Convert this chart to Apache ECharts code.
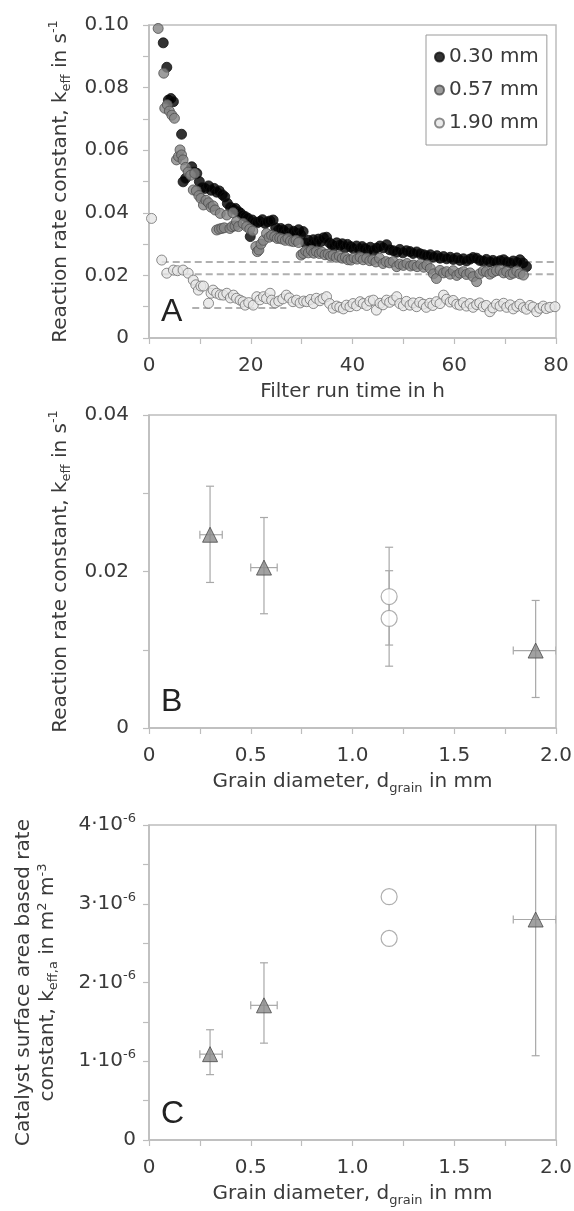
<!DOCTYPE html>
<html>
<head>
<meta charset="utf-8">
<script src="https://cdn.jsdelivr.net/npm/echarts@6.0.0/dist/echarts.min.js"></script>
<style>
  html, body { margin: 0; padding: 0; background: #fff; }
  #chart { width: 574px; height: 1211px; }
</style>
</head>
<body>
<div id="chart"></div>
<script>
// ---- panel A: k_eff vs filter run time ----
const t030 = [2.8,3.5,3.8,4.3,4.8,6.4,6.7,7.2,8.4,8.9,9.4,9.9,10.4,11.0,11.7,12.2,12.8,13.3,13.8,14.4,14.9,15.4,16.0,16.5,17.0,17.5,17.9,18.4,18.9,19.4,19.9,20.3,20.8,21.3,21.8,22.3,22.8,23.3,23.8,24.4,24.9,25.4,25.9,26.4,26.9,27.4,27.9,28.4,28.9,29.4,29.8,30.3,30.8,31.3,31.8,32.3,32.8,33.3,33.8,34.3,34.9,35.4,35.9,36.4,36.9,37.5,38.0,38.5,39.0,39.6,40.1,40.8,41.3,41.9,42.4,43.0,43.5,44.1,44.7,45.4,46.0,46.7,47.3,48.0,48.7,49.3,49.9,50.6,51.3,51.9,52.6,53.3,54.0,54.6,55.3,55.9,56.6,57.2,57.9,58.5,59.2,59.8,60.5,61.1,61.8,62.4,63.1,63.7,64.4,65.0,65.7,66.3,67.0,67.6,68.3,69.0,69.7,70.3,71.0,71.6,72.3,72.9,73.5,74.2];
const k030 = [0.0943,0.0865,0.0760,0.0765,0.0755,0.0651,0.0499,0.0510,0.0547,0.0530,0.0526,0.0500,0.0480,0.0478,0.0486,0.0472,0.0478,0.0466,0.0470,0.0458,0.0451,0.0430,0.0418,0.0412,0.0414,0.0404,0.0400,0.0392,0.0388,0.0383,0.0324,0.0377,0.0370,0.0368,0.0372,0.0378,0.0366,0.0371,0.0374,0.0377,0.0352,0.0344,0.0350,0.0345,0.0336,0.0348,0.0332,0.0341,0.0335,0.0346,0.0330,0.0340,0.0303,0.0312,0.0298,0.0314,0.0304,0.0316,0.0308,0.0320,0.0322,0.0305,0.0298,0.0293,0.0304,0.0296,0.0301,0.0288,0.0299,0.0292,0.0286,0.0294,0.0283,0.0292,0.0286,0.0280,0.0290,0.0279,0.0287,0.0294,0.0288,0.0298,0.0282,0.0279,0.0274,0.0283,0.0272,0.0279,0.0276,0.0270,0.0275,0.0269,0.0266,0.0262,0.0266,0.0258,0.0263,0.0255,0.0260,0.0253,0.0258,0.0251,0.0256,0.0248,0.0253,0.0246,0.0252,0.0257,0.0255,0.0248,0.0245,0.0251,0.0243,0.0248,0.0242,0.0247,0.0250,0.0243,0.0239,0.0246,0.0241,0.0250,0.0240,0.0228];

const t057 = [1.8,2.9,3.1,3.6,4.0,4.5,5.0,5.4,5.8,6.1,6.4,6.7,7.2,7.7,8.2,8.7,9.0,9.3,9.8,10.2,10.7,11.2,11.7,12.2,12.6,13.0,13.3,13.8,14.0,14.3,14.8,15.3,15.9,16.3,16.5,16.9,17.2,17.6,18.5,19.2,19.8,20.4,21.0,21.3,21.6,22.0,22.5,23.1,23.6,24.1,24.7,25.2,25.7,26.2,26.8,27.3,27.8,28.4,28.9,29.4,29.9,30.3,30.8,31.3,31.9,32.4,32.9,33.5,34.0,34.6,35.2,35.7,36.2,36.8,37.4,38.0,38.6,39.1,39.7,40.3,40.9,41.5,42.1,42.8,43.4,44.0,44.6,45.3,46.0,46.6,47.3,48.0,48.7,49.3,50.0,50.7,51.4,52.0,52.7,53.4,54.0,54.6,55.3,55.9,56.5,57.2,57.9,58.5,59.2,59.8,60.5,61.1,61.8,62.4,63.1,63.7,64.4,65.0,65.7,66.3,67.0,67.6,68.3,69.0,69.7,70.3,71.0,71.6,72.3,72.9,73.6];
const k057 = [0.0989,0.0846,0.0734,0.0745,0.0725,0.0712,0.0702,0.0569,0.0580,0.0601,0.0585,0.0569,0.0545,0.0530,0.0520,0.0473,0.0526,0.0470,0.0455,0.0446,0.0425,0.0440,0.0432,0.0418,0.0422,0.0409,0.0345,0.0348,0.0398,0.0350,0.0352,0.0393,0.0350,0.0356,0.0400,0.0358,0.0372,0.0356,0.0366,0.0356,0.0348,0.0342,0.0292,0.0276,0.0281,0.0300,0.0312,0.0334,0.0322,0.0328,0.0324,0.0318,0.0319,0.0316,0.0312,0.0318,0.0310,0.0308,0.0312,0.0305,0.0265,0.0270,0.0278,0.0272,0.0280,0.0271,0.0276,0.0270,0.0274,0.0266,0.0268,0.0262,0.0265,0.0258,0.0262,0.0255,0.0258,0.0250,0.0249,0.0256,0.0252,0.0258,0.0250,0.0255,0.0247,0.0250,0.0243,0.0255,0.0238,0.0244,0.0240,0.0244,0.0228,0.0236,0.0232,0.0238,0.0230,0.0233,0.0228,0.0236,0.0226,0.0233,0.0222,0.0205,0.0190,0.0216,0.0208,0.0212,0.0204,0.0215,0.0200,0.0207,0.0212,0.0203,0.0208,0.0196,0.0180,0.0205,0.0214,0.0212,0.0204,0.0210,0.0215,0.0217,0.0208,0.0212,0.0203,0.0207,0.0213,0.0205,0.0201];

const t190 = [0.5,2.5,3.5,4.8,5.6,6.7,7.7,8.7,9.2,9.7,10.2,10.7,11.7,12.2,12.6,13.3,14.0,14.6,15.3,16.0,16.6,17.2,17.9,18.5,18.9,19.6,20.5,21.2,21.8,22.5,23.1,23.8,24.1,24.8,25.5,26.3,27.0,27.6,28.3,29.0,29.7,30.4,31.0,31.7,32.3,32.9,33.6,34.2,34.9,35.5,36.2,36.9,37.5,38.2,38.8,39.5,40.1,40.8,41.5,42.1,42.8,43.4,44.1,44.7,45.4,46.0,46.7,47.3,48.0,48.7,49.3,50.0,50.6,51.3,51.9,52.6,53.2,53.9,54.5,55.2,55.8,56.5,57.2,57.9,58.5,59.2,59.8,60.5,61.1,61.8,62.4,63.1,63.7,64.4,65.0,65.7,66.3,67.0,67.6,68.3,69.0,69.7,70.3,71.0,71.6,72.3,72.9,73.6,74.2,74.9,75.5,76.2,76.8,77.5,78.1,78.8,79.8];
const k190 = [0.0382,0.0249,0.0207,0.0217,0.0215,0.0217,0.0207,0.0185,0.0170,0.0153,0.0166,0.0166,0.0111,0.0143,0.0153,0.0143,0.0138,0.0137,0.0143,0.0128,0.0137,0.0127,0.0121,0.0116,0.0105,0.0113,0.0105,0.0132,0.0122,0.0132,0.0126,0.0143,0.0121,0.0112,0.0118,0.0125,0.0137,0.0128,0.0116,0.0121,0.0112,0.0118,0.0116,0.0123,0.0110,0.0127,0.0119,0.0126,0.0132,0.0110,0.0095,0.0102,0.0098,0.0093,0.0105,0.0100,0.0110,0.0103,0.0116,0.0110,0.0104,0.0118,0.0121,0.0089,0.0111,0.0106,0.0121,0.0114,0.0121,0.0132,0.0110,0.0103,0.0117,0.0105,0.0112,0.0100,0.0114,0.0108,0.0098,0.0111,0.0104,0.0116,0.0110,0.0137,0.0124,0.0115,0.0120,0.0108,0.0105,0.0113,0.0102,0.0110,0.0098,0.0107,0.0112,0.0100,0.0104,0.0084,0.0096,0.0108,0.0102,0.0111,0.0098,0.0106,0.0093,0.0101,0.0108,0.0097,0.0092,0.0104,0.0099,0.0084,0.0095,0.0102,0.0094,0.0098,0.0100];

// dashed reference levels: k, start time, end time
const dashK = [0.0243, 0.0204, 0.0096];
const dashT0 = [2.5, 2.5, 8.5];
const dashT1 = [80, 80, 27];

// ---- panel B / C: per grain size ----
const triD    = [0.30, 0.565, 1.90];
const triDLo  = [0.25, 0.50, 1.79];
const triDHi  = [0.36, 0.63, 2.00];
const triK    = [0.0247, 0.0205, 0.0099];
const triKLo  = [0.0186, 0.0146, 0.0039];
const triKHi  = [0.0309, 0.0269, 0.0163];
const circD   = [1.18, 1.18];
const circK   = [0.0168, 0.0140];
const circKLo = [0.0106, 0.0079];
const circKHi = [0.0231, 0.0201];

const triKa   = [1.09e-6, 1.71e-6, 2.80e-6];
const triKaLo = [0.83e-6, 1.23e-6, 1.07e-6];
const triKaHi = [1.40e-6, 2.25e-6, 4.40e-6];
const circKa  = [3.09e-6, 2.56e-6];

const FONT = 'DejaVu Sans';
const TXT = '#3a3a3a';
const AX = '#bdbdbd';

const chart = echarts.init(document.getElementById('chart'));

function zip(a, b) { return a.map((v, i) => [v, b[i]]); }

function errData(x, y, lo, hi, xlo, xhi) {
  return x.map((v, i) => [v, y[i], lo[i], hi[i], xlo ? xlo[i] : v, xhi ? xhi[i] : v]);
}

function errRender(params, api) {
  const x = api.value(0), y = api.value(1);
  const lo = api.coord([x, api.value(2)]);
  const hi = api.coord([x, api.value(3)]);
  const xl = api.coord([api.value(4), y]);
  const xh = api.coord([api.value(5), y]);
  const c = 4;
  const st = { stroke: '#a8a8a8', lineWidth: 1.2 };
  const kids = [
    { type: 'line', shape: { x1: lo[0], y1: lo[1], x2: hi[0], y2: hi[1] }, style: st },
    { type: 'line', shape: { x1: lo[0] - c, y1: lo[1], x2: lo[0] + c, y2: lo[1] }, style: st },
    { type: 'line', shape: { x1: hi[0] - c, y1: hi[1], x2: hi[0] + c, y2: hi[1] }, style: st }
  ];
  if (xh[0] - xl[0] > 1) {
    kids.push({ type: 'line', shape: { x1: xl[0], y1: xl[1], x2: xh[0], y2: xh[1] }, style: st });
    kids.push({ type: 'line', shape: { x1: xl[0], y1: xl[1] - c, x2: xl[0], y2: xl[1] + c }, style: st });
    kids.push({ type: 'line', shape: { x1: xh[0], y1: xh[1] - c, x2: xh[0], y2: xh[1] + c }, style: st });
  }
  return { type: 'group', children: kids };
}

function mkRich(lh) {
  return {
    b: { fontSize: 20, color: TXT, fontFamily: FONT, lineHeight: lh },
    sub: { fontSize: 13, color: TXT, fontFamily: FONT, verticalAlign: 'bottom' },
    sup: { fontSize: 13, color: TXT, fontFamily: FONT, verticalAlign: 'top' }
  };
}
const rich = mkRich(26);
const richC = mkRich(24);

function xAxisCommon(gi, min, max, interval, fmt, name) {
  return {
    gridIndex: gi, type: 'value', min: min, max: max, interval: interval,
    name: name, nameLocation: 'middle', nameGap: 41,
    nameTextStyle: { rich: rich },
    axisLine: { show: true, lineStyle: { color: AX, width: 1.5 } },
    axisTick: { show: true, inside: false, length: 6, lineStyle: { color: AX, width: 1.2 } },
    axisLabel: { formatter: fmt, fontSize: 20, color: TXT, fontFamily: FONT, margin: 18 },
    splitLine: { show: false }
  };
}

function yAxisCommon(gi, min, max, interval, fmt, name, gap, nameRich, margin, labelRich) {
  return {
    gridIndex: gi, type: 'value', min: min, max: max, interval: interval,
    name: name, nameLocation: 'middle', nameGap: gap, nameRotate: 90,
    nameTextStyle: { rich: nameRich, align: 'center' },
    axisLine: { show: true, lineStyle: { color: AX, width: 1.5 } },
    axisTick: { show: true, inside: false, length: 6, lineStyle: { color: AX, width: 1.2 } },
    axisLabel: { formatter: fmt, fontSize: 20, color: TXT, fontFamily: FONT, margin: margin, rich: labelRich },
    splitLine: { show: false }
  };
}

const fmtA_x = v => (v % 20 === 0 ? String(v) : '');
const fmtK = v => {
  const n = Math.round(v * 100);
  if (n % 2 !== 0) return '';
  return n === 0 ? '0' : v.toFixed(2);
};
const fmtD = v => {
  const n = Math.round(v * 4);
  if (n % 2 !== 0) return '';
  return n === 0 ? '0' : v.toFixed(1);
};
const fmtC_y = v => {
  const n = Math.round(v * 2e6);
  if (n % 2 !== 0) return '';
  return n === 0 ? '0' : '{m|' + (n / 2) + '·10}{e|-6}';
};
const cRich = {
  m: { fontSize: 20, color: TXT, fontFamily: FONT, lineHeight: 26 },
  e: { fontSize: 13, color: TXT, fontFamily: FONT, verticalAlign: 'top' }
};

const grids = [
  { left: 149, right: 18, top: 25, height: 313 },
  { left: 149, right: 18, top: 415, height: 313 },
  { left: 149, right: 18, top: 825, height: 315 }
].map(g => Object.assign(g, {
  show: true, borderColor: AX, borderWidth: 1.5, backgroundColor: 'transparent',
  containLabel: false, outerBoundsMode: 'none'
}));

const dashSeries = dashK.map((k, i) => ({
  type: 'line', xAxisIndex: 0, yAxisIndex: 0, silent: true, symbol: 'none',
  data: [[dashT0[i], k], [dashT1[i], k]],
  lineStyle: { color: '#b0b0b0', width: 2, type: [7, 4] }, z: 1
}));

const triStyle = { color: '#8a8a8a', borderColor: '#4a4a4a', borderWidth: 1 };
const circStyle = { color: '#ffffff', borderColor: '#9a9a9a', borderWidth: 1.2 };

chart.setOption({
  animation: false,
  textStyle: { fontFamily: FONT },
  grid: grids,
  legend: {
    data: ['0.30 mm', '0.57 mm', '1.90 mm'],
    orient: 'vertical', left: 426, top: 35,
    backgroundColor: '#fff', borderColor: '#9a9a9a', borderWidth: 1,
    padding: [10, 8, 10, 8], itemGap: 9, itemWidth: 9, itemHeight: 9,
    textStyle: { fontSize: 20, color: TXT, fontFamily: FONT, lineHeight: 24 }
  },
  xAxis: [
    xAxisCommon(0, 0, 80, 10, fmtA_x, '{b|Filter run time in h}'),
    xAxisCommon(1, 0, 2, 0.25, fmtD, '{b|Grain diameter, d}{sub|grain}{b| in mm}'),
    xAxisCommon(2, 0, 2, 0.25, fmtD, '{b|Grain diameter, d}{sub|grain}{b| in mm}')
  ],
  yAxis: [
    yAxisCommon(0, 0, 0.1, 0.01, fmtK, '{b|Reaction rate constant, k}{sub|eff}{b| in s}{sup|-1}', 74, rich, 20),
    yAxisCommon(1, 0, 0.04, 0.01, fmtK, '{b|Reaction rate constant, k}{sub|eff}{b| in s}{sup|-1}', 74, rich, 20),
    yAxisCommon(2, 0, 4e-6, 0.5e-6, fmtC_y,
      '{b|Catalyst surface area based rate}\n{b|constant, k}{sub|eff,a}{b| in m}{sup|2}{b| m}{sup|-3}', 89, richC, 13, cRich)
  ],
  graphic: [
    { type: 'text', left: 161, top: 296, style: { text: 'A', fontSize: 32, fill: '#222', fontFamily: 'Liberation Sans' } },
    { type: 'text', left: 161, top: 686, style: { text: 'B', fontSize: 32, fill: '#222', fontFamily: 'Liberation Sans' } },
    { type: 'text', left: 161, top: 1098, style: { text: 'C', fontSize: 32, fill: '#222', fontFamily: 'Liberation Sans' } }
  ],
  series: dashSeries.concat([
    { name: '0.30 mm', type: 'scatter', xAxisIndex: 0, yAxisIndex: 0, data: zip(t030, k030),
      symbol: 'circle', symbolSize: 10, itemStyle: { color: '#000', borderColor: '#111', borderWidth: 1 }, z: 3 },
    { name: '0.57 mm', type: 'scatter', xAxisIndex: 0, yAxisIndex: 0, data: zip(t057, k057),
      symbol: 'circle', symbolSize: 10, itemStyle: { color: '#858585', borderColor: '#4d4d4d', borderWidth: 1 }, z: 4 },
    { name: '1.90 mm', type: 'scatter', xAxisIndex: 0, yAxisIndex: 0, data: zip(t190, k190),
      symbol: 'circle', symbolSize: 10, itemStyle: { color: '#e6e6e6', borderColor: '#6f6f6f', borderWidth: 1 }, z: 5 },

    { type: 'custom', xAxisIndex: 1, yAxisIndex: 1, renderItem: errRender, clip: true, silent: true,
      data: errData(triD, triK, triKLo, triKHi, triDLo, triDHi), z: 2 },
    { type: 'custom', xAxisIndex: 1, yAxisIndex: 1, renderItem: errRender, clip: true, silent: true,
      data: errData(circD, circK, circKLo, circKHi), z: 2 },
    { type: 'scatter', xAxisIndex: 1, yAxisIndex: 1, data: zip(triD, triK),
      symbol: 'triangle', symbolSize: 15, itemStyle: triStyle, z: 4 },
    { type: 'scatter', xAxisIndex: 1, yAxisIndex: 1, data: zip(circD, circK),
      symbol: 'circle', symbolSize: 16, itemStyle: circStyle, z: 4 },

    { type: 'custom', xAxisIndex: 2, yAxisIndex: 2, renderItem: errRender, clip: true, silent: true,
      data: errData(triD, triKa, triKaLo, triKaHi, triDLo, triDHi), z: 2 },
    { type: 'scatter', xAxisIndex: 2, yAxisIndex: 2, data: zip(triD, triKa),
      symbol: 'triangle', symbolSize: 15, itemStyle: triStyle, z: 4 },
    { type: 'scatter', xAxisIndex: 2, yAxisIndex: 2, data: zip(circD, circKa),
      symbol: 'circle', symbolSize: 16, itemStyle: circStyle, z: 4 }
  ])
});
</script>
</body>
</html>
